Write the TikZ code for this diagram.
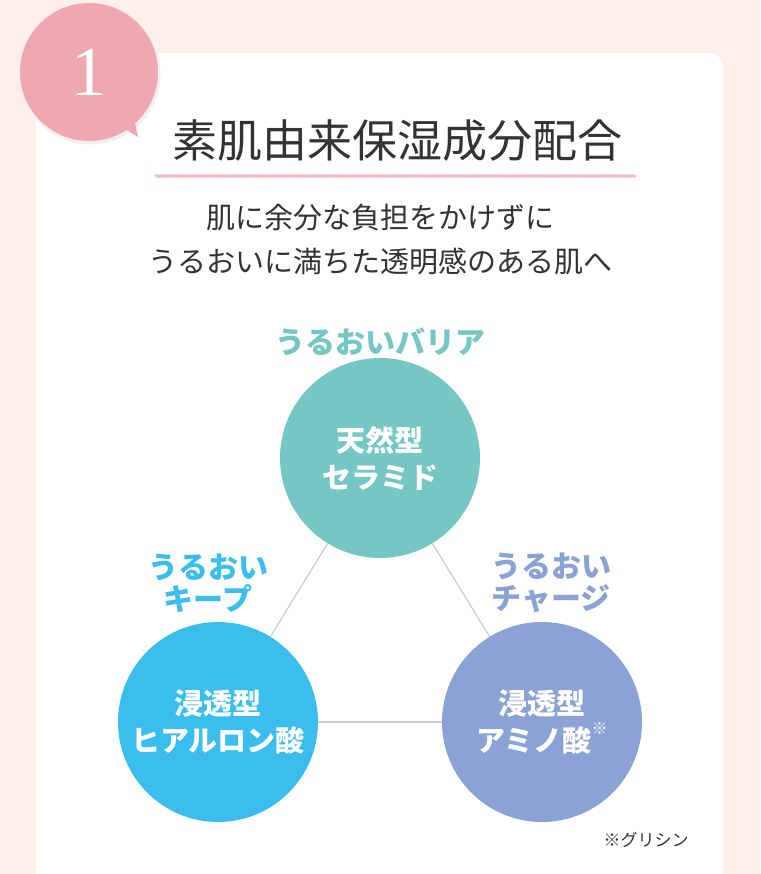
\documentclass[tikz,border=0pt]{standalone}
\usepackage{fontspec}
\setmainfont{Noto Sans CJK JP}
\newfontfamily\jp{Noto Sans CJK JP}
\newfontfamily\numf{Liberation Serif}
\usetikzlibrary{decorations.pathmorphing}
\definecolor{bgpink}{HTML}{FDEFEB}
\definecolor{badge}{HTML}{F0A8B0}
\definecolor{teal}{HTML}{74C7C2}
\definecolor{sky}{HTML}{3BBDEE}
\definecolor{lav}{HTML}{8AA2D4}
\definecolor{txt}{HTML}{333333}
\begin{document}
\begin{tikzpicture}[x=1pt,y=-1pt,
  ring/.style={circle,minimum size=200pt,inner sep=0pt,text=white,font=\jp\bfseries\fontsize{29}{37}\selectfont,align=center},
  lbl/.style={font=\jp\bfseries\fontsize{30}{32}\selectfont,align=center},
  link/.style={draw=black!20,line width=1.2pt}]
\fill[bgpink] (0,0) rectangle (760,874);
\useasboundingbox (0,0) rectangle (760,874);
\fill[white,rounded corners=14pt] (36,53) rectangle (723,890);
\fill[black!6] (90,74) circle (70.5);
\fill[badge] (110,120) -- (138,137) -- (130,100) -- cycle;
\fill[badge] (89,72) circle (69);
\node (one) at (89,72) {\numf\fontsize{70}{70}\selectfont\color{white}1};
\node[text=txt,font=\jp\fontsize{45}{50}\selectfont] (title) at (397,141) {素肌由来保湿成分配合};
\draw[badge!80,line width=1.6pt,decorate,decoration={zigzag,amplitude=0.9pt,segment length=2.5pt}] (155,176) -- (636,176);
\node[text=txt,font=\jp\fontsize{29}{44}\selectfont,align=center] (sub) at (380,240) {肌に余分な負担をかけずに\\うるおいに満ちた透明感のある肌へ};
\node[ring,fill=teal] (c1) at (380,458) {天然型\\セラミド};
\node[ring,fill=sky] (c2) at (218,722) {浸透型\\ヒアルロン酸};
\node[ring,fill=lav] (c3) at (542,722) {浸透型\\アミノ酸\raisebox{0.6em}{\fontsize{16}{16}\selectfont ※}};
\draw[link] (c1) -- (c2);
\draw[link] (c1) -- (c3);
\draw[link] (c2) -- (c3);
\node[lbl,text=teal] (l1) at (380,342) {うるおいバリア};
\node[lbl,text=sky] (l2) at (208,583) {うるおい\\キープ};
\node[lbl,text=lav] (l3) at (551,583) {うるおい\\チャージ};
\node[text=txt,font=\jp\fontsize{17}{18}\selectfont] (note) at (646,840) {※グリシン};
\end{tikzpicture}
\end{document}
